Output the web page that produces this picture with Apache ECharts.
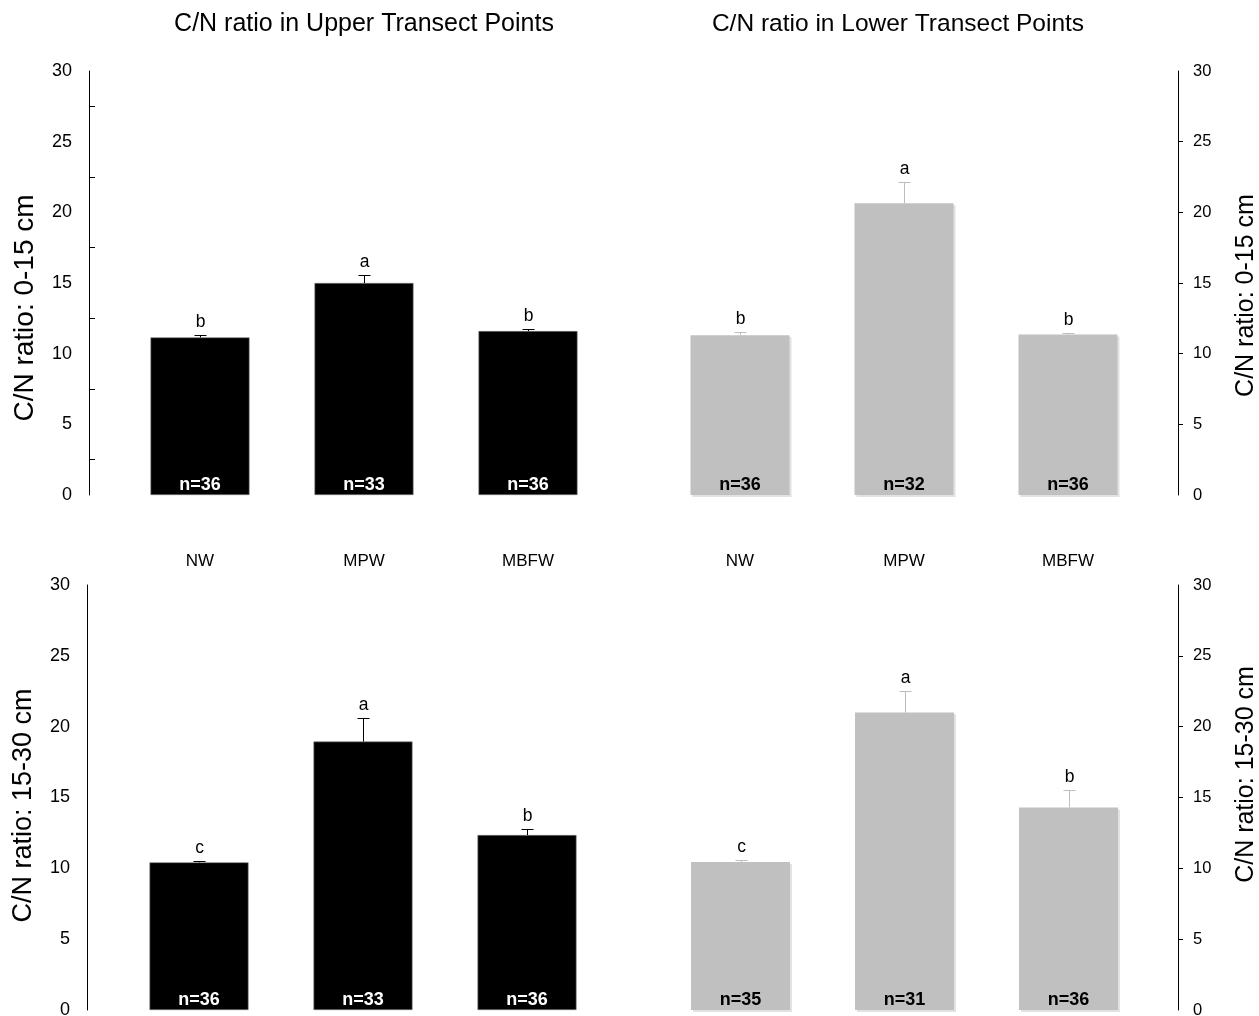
<!DOCTYPE html>
<html>
<head>
<meta charset="utf-8">
<title>C/N ratio by transect position and depth</title>
<script src="https://cdn.jsdelivr.net/npm/echarts@6/dist/echarts.min.js"></script>
<style>
  html, body { margin: 0; padding: 0; background: #ffffff; }
  #chart { width: 1259px; height: 1016px; }
</style>
</head>
<body>
<div id="chart"></div>
<script>
// Land-use categories
const categories = ['NW', 'MPW', 'MBFW'];

// Upper transect points, 0-15 cm
const upperTopMean = [11.15, 15.0, 11.6];
const upperTopErr = [0.15, 0.55, 0.12];
const upperTopLetters = ['b', 'a', 'b'];
const upperTopN = [36, 33, 36];

// Lower transect points, 0-15 cm
const lowerTopMean = [11.3, 20.65, 11.35];
const lowerTopErr = [0.25, 1.5, 0.12];
const lowerTopLetters = ['b', 'a', 'b'];
const lowerTopN = [36, 32, 36];

// Upper transect points, 15-30 cm
const upperSubMean = [10.42, 18.95, 12.35];
const upperSubErr = [0.1, 1.65, 0.45];
const upperSubLetters = ['c', 'a', 'b'];
const upperSubN = [36, 33, 36];

// Lower transect points, 15-30 cm
const lowerSubMean = [10.44, 21.0, 14.3];
const lowerSubErr = [0.15, 1.5, 1.25];
const lowerSubLetters = ['c', 'a', 'b'];
const lowerSubN = [35, 31, 36];

// Axis ticks
const yTickLabels = [0, 5, 10, 15, 20, 25, 30];
const leftMinorTicks = [2.5, 7.5, 12.5, 17.5, 22.5, 27.5];
const rightTicks = [5, 10, 15, 20, 25];

const FONT = '"Liberation Sans", Arial, Helvetica, sans-serif';

const panels = [
  {
    grid: { left: 118, top: 71, width: 492, height: 424 },
    side: 'left', offset: 29,
    mean: upperTopMean, err: upperTopErr, letters: upperTopLetters, n: upperTopN,
    barColor: '#000000', errColor: '#000000', nColor: '#ffffff',
    axisName: 'C/N ratio: 0-15 cm', nameSize: 28, namePad: [0, 50, 0, 0], nameGap: 50,
    labelSize: 18, ticks: { show: true, inside: true, length: 6, customValues: leftMinorTicks },
    showCategories: true
  },
  {
    grid: { left: 658, top: 71, width: 492, height: 424 },
    side: 'right', offset: 28,
    mean: lowerTopMean, err: lowerTopErr, letters: lowerTopLetters, n: lowerTopN,
    barColor: '#c0c0c0', errColor: '#bdbdbd', nColor: '#000000',
    axisName: 'C/N ratio: 0-15 cm', nameSize: 25, namePad: [0, 25, 0, 0], nameGap: 56,
    labelSize: 16.5, ticks: { show: true, inside: false, length: 5, customValues: rightTicks },
    showCategories: true
  },
  {
    grid: { left: 117, top: 585, width: 492, height: 425 },
    side: 'left', offset: 30,
    mean: upperSubMean, err: upperSubErr, letters: upperSubLetters, n: upperSubN,
    barColor: '#000000', errColor: '#000000', nColor: '#ffffff',
    axisName: 'C/N ratio: 15-30 cm', nameSize: 27, namePad: [0, 16, 0, 0], nameGap: 50,
    labelSize: 18, ticks: { show: false },
    showCategories: false
  },
  {
    grid: { left: 658.5, top: 585, width: 492, height: 425 },
    side: 'right', offset: 27.5,
    mean: lowerSubMean, err: lowerSubErr, letters: lowerSubLetters, n: lowerSubN,
    barColor: '#c0c0c0', errColor: '#bdbdbd', nColor: '#000000',
    axisName: 'C/N ratio: 15-30 cm', nameSize: 25, namePad: [0, 0, 0, 46], nameGap: 56,
    labelSize: 16.5, ticks: { show: true, inside: false, length: 5, customValues: rightTicks },
    showCategories: false
  }
];

function errorBarRenderer(p) {
  return function (params, api) {
    const i = api.value(0);
    const m = api.value(1);
    const e = api.value(2);
    const base = api.coord([i, m]);
    const top = api.coord([i, m + e]);
    const x = Math.round(base[0]) + 0.5;
    const capY = Math.round(top[1]) + 0.5;
    return {
      type: 'group',
      children: [
        { type: 'line', shape: { x1: x, y1: base[1], x2: x, y2: capY },
          style: { stroke: p.errColor, lineWidth: 1 } },
        { type: 'line', shape: { x1: x - 6, y1: capY, x2: x + 6, y2: capY },
          style: { stroke: p.errColor, lineWidth: 1 } },
        { type: 'text', x: x, y: capY - 4,
          style: { text: p.letters[params.dataIndex], fill: '#000000', fontSize: 17.5,
                   fontFamily: FONT, align: 'center', verticalAlign: 'bottom' } }
      ]
    };
  };
}

const grids = [], xAxes = [], yAxes = [], series = [];

panels.forEach(function (p, k) {
  grids.push(Object.assign({ containLabel: false, outerBoundsMode: 'none' }, p.grid));

  xAxes.push({
    type: 'category', gridIndex: k, data: categories,
    axisLine: { show: false }, axisTick: { show: false },
    axisLabel: { show: p.showCategories, margin: 58, fontSize: 17, color: '#000000', fontFamily: FONT },
    splitLine: { show: false }
  });

  yAxes.push({
    type: 'value', gridIndex: k, position: p.side, offset: p.offset,
    min: 0, max: 30, interval: 5,
    name: p.axisName, nameLocation: 'middle', nameRotate: 90, nameGap: p.nameGap,
    nameMoveOverlap: false,
    nameTextStyle: { fontSize: p.nameSize, color: '#000000', fontFamily: FONT, padding: p.namePad },
    axisLine: { show: true, lineStyle: { color: '#000000', width: 1 } },
    axisTick: Object.assign({ lineStyle: { color: '#000000', width: 1 } }, p.ticks),
    axisLabel: { show: true, margin: p.side === 'left' ? 17 : 15, fontSize: p.labelSize,
                 color: '#000000', fontFamily: FONT,
                 customValues: yTickLabels },
    splitLine: { show: false }
  });

  const gray = p.barColor !== '#000000';
  series.push({
    type: 'bar', xAxisIndex: k, yAxisIndex: k,
    data: p.mean, barWidth: 99,
    itemStyle: gray
      ? { color: p.barColor, shadowColor: '#e2e2e2', shadowOffsetX: 2, shadowOffsetY: 2, shadowBlur: 0 }
      : { color: p.barColor, borderColor: '#7a7a7a', borderWidth: 0.6 },
    label: {
      show: true, position: 'insideBottom', distance: 1,
      formatter: function (d) { return 'n=' + p.n[d.dataIndex]; },
      color: p.nColor, fontWeight: 'bold', fontSize: 18, fontFamily: FONT
    },
    emphasis: { disabled: true },
    silent: true, animation: false
  });

  series.push({
    type: 'custom', xAxisIndex: k, yAxisIndex: k,
    data: categories.map(function (c, i) { return [i, p.mean[i], p.err[i]]; }),
    encode: { x: 0, y: 1 },
    renderItem: errorBarRenderer(p),
    clip: false, silent: true, animation: false, z: 5
  });
});

const chart = echarts.init(document.getElementById('chart'), null, { renderer: 'canvas' });
chart.setOption({
  backgroundColor: '#ffffff',
  animation: false,
  textStyle: { fontFamily: FONT },
  graphic: [
    { type: 'text', x: 364, y: 12,
      style: { text: 'C/N ratio in Upper Transect Points', fontSize: 25, fontFamily: FONT,
               fill: '#000000', align: 'center', verticalAlign: 'top' } },
    { type: 'text', x: 898, y: 12,
      style: { text: 'C/N ratio in Lower Transect Points', fontSize: 24.5, fontFamily: FONT,
               fill: '#000000', align: 'center', verticalAlign: 'top' } }
  ],
  grid: grids,
  xAxis: xAxes,
  yAxis: yAxes,
  series: series
});
</script>
</body>
</html>
